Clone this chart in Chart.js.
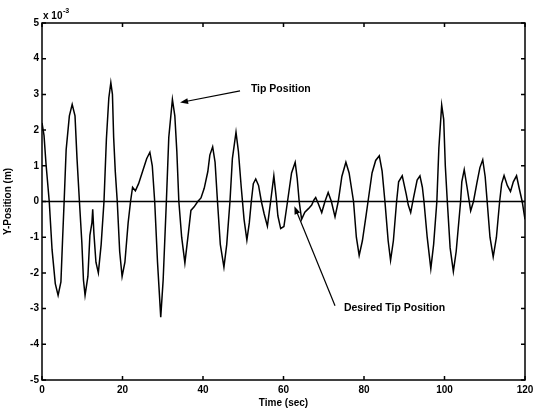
<!DOCTYPE html>
<html>
<head>
<meta charset="utf-8">
<script src="https://cdn.jsdelivr.net/npm/chart.js@4.4.1/dist/chart.umd.min.js"></script>
<style>
  body { margin: 0; background: #fff; }
  #contenedor { width: 539px; height: 412px; }
</style>
</head>
<body>
<div id="contenedor"><canvas id="grafica"></canvas></div>
<script>
// Tiempo (s) y posicion de la punta (x 10^-3 m)
const tiempo = [
  0.0, 0.5, 1.0, 1.8, 2.5, 3.3, 4.0, 4.7, 5.1, 5.5, 6.0, 6.8, 7.5, 8.2, 8.7, 9.3, 9.9, 10.3, 10.7, 11.4,
  11.9, 12.4, 12.6, 12.9, 13.4, 14.0, 14.7, 15.4, 16.0, 16.6, 17.1, 17.5, 17.8, 18.2, 18.7, 19.3, 19.9, 20.6, 21.4, 22.0,
  22.5, 23.2, 24.0, 25.0, 26.0, 26.8, 27.4, 28.0, 28.7, 29.5, 30.1, 30.9, 31.5, 32.4, 33.0, 33.5, 34.0, 34.7, 35.5, 36.4,
  37.0, 37.8, 38.7, 39.5, 40.3, 41.2, 41.7, 42.4, 43.0, 43.6, 44.3, 45.2, 45.9, 46.7, 47.3, 48.2, 48.8, 49.5, 50.2, 50.9,
  51.5, 52.0, 52.5, 53.1, 53.8, 54.5, 55.2, 56.0, 56.8, 57.6, 58.2, 58.6, 59.3, 60.1, 61.0, 62.0, 62.9, 63.4, 63.9, 64.5,
  65.3, 66.2, 67.0, 67.6, 68.0, 68.6, 69.5, 70.3, 71.1, 71.9, 72.8, 73.6, 74.5, 75.5, 76.3, 77.4, 78.1, 78.8, 79.6, 80.5,
  81.0, 82.0, 82.9, 83.8, 84.5, 85.2, 86.0, 86.6, 87.3, 88.1, 88.6, 89.5, 90.5, 91.0, 91.6, 92.3, 93.2, 93.9, 94.5, 94.9,
  95.7, 96.6, 97.3, 98.1, 98.6, 99.3, 99.8, 100.2, 100.7, 101.4, 102.2, 102.9, 104.0, 104.3, 104.9, 105.6, 106.5, 107.2, 108.1, 108.8,
  109.5, 110.1, 110.6, 111.3, 112.1, 112.9, 113.7, 114.2, 114.8, 115.6, 116.4, 117.1, 117.9, 118.5, 119.3, 120.0
];
const posicionY = [
  2.20, 1.85, 1.05, 0.00, -1.35, -2.30, -2.63, -2.25, -1.10, 0.00, 1.45, 2.40, 2.72, 2.40, 1.20, 0.00, -1.15, -2.20, -2.63, -2.10,
  -0.95, -0.60, -0.22, -0.90, -1.70, -2.00, -1.20, 0.00, 1.75, 2.90, 3.33, 3.00, 1.80, 0.85, 0.00, -1.40, -2.10, -1.70, -0.60, 0.00,
  0.40, 0.30, 0.50, 0.85, 1.20, 1.38, 1.00, 0.00, -1.70, -3.24, -2.20, 0.00, 1.80, 2.86, 2.40, 1.40, 0.00, -1.00, -1.72, -0.85,
  -0.25, -0.15, 0.00, 0.10, 0.37, 0.84, 1.30, 1.53, 1.10, 0.00, -1.20, -1.84, -1.20, 0.00, 1.20, 1.94, 1.40, 0.40, -0.50, -1.08,
  -0.60, 0.00, 0.50, 0.63, 0.45, 0.00, -0.35, -0.69, 0.00, 0.72, 0.10, -0.40, -0.76, -0.70, 0.00, 0.80, 1.10, 0.65, 0.00, -0.50,
  -0.30, -0.20, -0.10, 0.05, 0.11, -0.05, -0.31, 0.00, 0.25, 0.00, -0.43, 0.00, 0.70, 1.10, 0.80, 0.00, -1.00, -1.51, -1.10, -0.40,
  0.00, 0.80, 1.15, 1.28, 0.85, 0.00, -1.10, -1.65, -1.10, 0.00, 0.55, 0.72, 0.20, -0.10, -0.31, 0.10, 0.60, 0.72, 0.40, 0.00,
  -1.00, -1.88, -1.20, 0.00, 1.50, 2.70, 2.30, 1.00, 0.00, -1.30, -1.96, -1.40, 0.00, 0.55, 0.89, 0.40, -0.26, 0.00, 0.55, 0.95,
  1.17, 0.70, 0.00, -1.00, -1.55, -1.00, 0.00, 0.50, 0.73, 0.45, 0.28, 0.55, 0.72, 0.40, 0.00, -0.50
];

// Posicion deseada (linea en cero)
const deseadaX = [0, 120];
const deseadaY = [0, 0];

// Marcas de los ejes
const ticksX = [0, 20, 40, 60, 80, 100, 120];
const ticksY = [-5, -4, -3, -2, -1, 0, 1, 2, 3, 4, 5];

// Anotaciones con flecha (en coordenadas de datos)
const notas = [
  { texto: "Tip Position", x: 51.9, y: 3.16, desdeX: 49.2, desdeY: 3.1, hastaX: 34.3, hastaY: 2.77 },
  { texto: "Desired Tip Position", x: 75.0, y: -3.0, desdeX: 72.8, desdeY: -2.92, hastaX: 62.7, hastaY: -0.13 }
];

const fuente = { family: "'Liberation Sans', Arial, sans-serif", size: 10, weight: "bold" };

// Dibuja la caja, las marcas hacia adentro, el multiplicador y las flechas
const marcoPlugin = {
  id: "marco",
  afterDraw(chart) {
    const ctx = chart.ctx;
    const a = chart.chartArea;
    const sx = chart.scales.x;
    const sy = chart.scales.y;
    ctx.save();
    ctx.strokeStyle = "#000";
    ctx.fillStyle = "#000";
    ctx.lineWidth = 1.5;
    ctx.strokeRect(a.left, a.top, a.right - a.left, a.bottom - a.top);

    ctx.lineWidth = 1.5;
    ctx.beginPath();
    ticksX.forEach((v) => {
      const px = sx.getPixelForValue(v);
      ctx.moveTo(px, a.bottom); ctx.lineTo(px, a.bottom - 4);
      ctx.moveTo(px, a.top); ctx.lineTo(px, a.top + 4);
    });
    ticksY.forEach((v) => {
      const py = sy.getPixelForValue(v);
      ctx.moveTo(a.left, py); ctx.lineTo(a.left + 4, py);
      ctx.moveTo(a.right, py); ctx.lineTo(a.right - 4, py);
    });
    ctx.stroke();

    // x 10^-3
    ctx.textBaseline = "alphabetic";
    ctx.textAlign = "left";
    ctx.font = "bold 10px 'Liberation Sans', Arial, sans-serif";
    ctx.fillText("x 10", a.left + 1, a.top - 4);
    ctx.font = "bold 7px 'Liberation Sans', Arial, sans-serif";
    ctx.fillText("-3", a.left + 21, a.top - 10);

    // anotaciones
    notas.forEach((n) => {
      const x1 = sx.getPixelForValue(n.desdeX), y1 = sy.getPixelForValue(n.desdeY);
      const x2 = sx.getPixelForValue(n.hastaX), y2 = sy.getPixelForValue(n.hastaY);
      const ang = Math.atan2(y2 - y1, x2 - x1);
      const largo = 8, ancho = 3;
      ctx.lineWidth = 1.2;
      ctx.beginPath();
      ctx.moveTo(x1, y1);
      ctx.lineTo(x2 - Math.cos(ang) * largo * 0.7, y2 - Math.sin(ang) * largo * 0.7);
      ctx.stroke();
      ctx.beginPath();
      ctx.moveTo(x2, y2);
      ctx.lineTo(x2 - Math.cos(ang) * largo - Math.sin(ang) * ancho, y2 - Math.sin(ang) * largo + Math.cos(ang) * ancho);
      ctx.lineTo(x2 - Math.cos(ang) * largo + Math.sin(ang) * ancho, y2 - Math.sin(ang) * largo - Math.cos(ang) * ancho);
      ctx.closePath();
      ctx.fill();
      ctx.font = "bold 10.5px 'Liberation Sans', Arial, sans-serif";
      ctx.textBaseline = "middle";
      ctx.fillText(n.texto, sx.getPixelForValue(n.x), sy.getPixelForValue(n.y));
    });
    ctx.restore();
  }
};

const ctxGrafica = document.getElementById("grafica").getContext("2d");
new Chart(ctxGrafica, {
  type: "line",
  data: {
    datasets: [
      {
        label: "Tip Position",
        data: tiempo.map((t, i) => ({ x: t, y: posicionY[i] })),
        borderColor: "#000",
        borderWidth: 1.5,
        pointRadius: 0,
        tension: 0,
        fill: false
      },
      {
        label: "Desired Tip Position",
        data: deseadaX.map((t, i) => ({ x: t, y: deseadaY[i] })),
        borderColor: "#000",
        borderWidth: 1.5,
        pointRadius: 0,
        tension: 0,
        fill: false
      }
    ]
  },
  options: {
    responsive: true,
    maintainAspectRatio: false,
    animation: false,
    layout: { padding: { top: 23, right: 14, left: 0, bottom: 0 } },
    plugins: {
      legend: { display: false },
      tooltip: { enabled: false }
    },
    scales: {
      x: {
        type: "linear",
        min: 0,
        max: 120,
        afterBuildTicks: (scale) => { scale.ticks = ticksX.map((v) => ({ value: v })); },
        afterFit: (scale) => { scale.height = 32; },
        grid: { display: false, drawTicks: false },
        border: { display: false },
        ticks: { color: "#000", font: fuente, padding: 4, maxRotation: 0 },
        title: { display: true, text: "Time (sec)", color: "#000", font: fuente, padding: { top: 0, bottom: 3 } }
      },
      y: {
        type: "linear",
        min: -5,
        max: 5,
        afterBuildTicks: (scale) => { scale.ticks = ticksY.map((v) => ({ value: v })); },
        afterFit: (scale) => { scale.width = 42; },
        grid: { display: false, drawTicks: false },
        border: { display: false },
        ticks: { color: "#000", font: fuente, padding: 3 },
        title: { display: true, text: "Y-Position (m)", color: "#000", font: fuente, padding: { top: 2, bottom: 0 } }
      }
    }
  },
  plugins: [marcoPlugin]
});
</script>
</body>
</html>
